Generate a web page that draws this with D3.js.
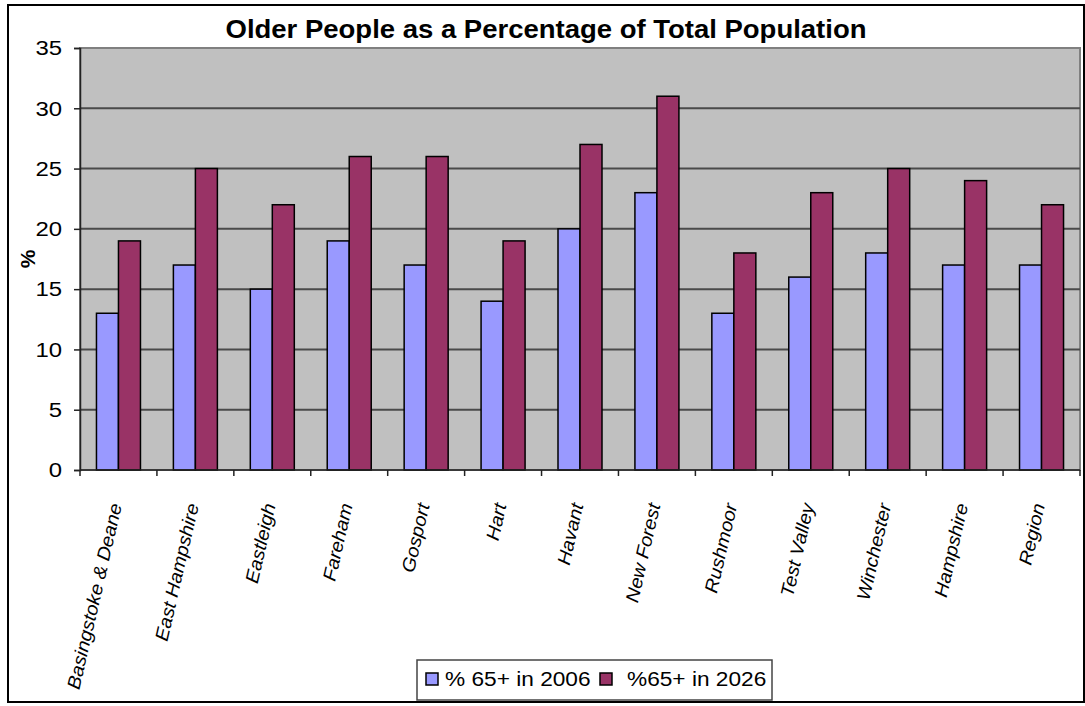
<!DOCTYPE html>
<html>
<head>
<meta charset="utf-8">
<script src="https://cdn.jsdelivr.net/npm/d3@7"></script>
<style>
  body { margin: 0; background: #fff; }
  text { font-family: "Liberation Sans", Arial, sans-serif; }
</style>
</head>
<body>
<div id="chart"></div>
<script>
// data
const districts = ["Basingstoke & Deane", "East Hampshire", "Eastleigh", "Fareham", "Gosport", "Hart",
    "Havant", "New Forest", "Rushmoor", "Test Valley", "Winchester", "Hampshire", "Region"];
const pct2006 = [13, 17, 15, 19, 17, 14, 20, 23, 13, 16, 18, 17, 17];
const pct2026 = [19, 25, 22, 26, 26, 19, 27, 31, 18, 23, 25, 24, 22];
const seriesNames = ["% 65+ in 2006", "%65+ in 2026"];
const yTicks = [0, 5, 10, 15, 20, 25, 30, 35];

const WIDTH = 1085, HEIGHT = 706;
const COLORS = ["#9999FF", "#993366"];
// the original text is drawn a little wider than Arial
const STRETCH = 1.1;

const svg = d3.select("#chart").append("svg")
    .attr("width", WIDTH)
    .attr("height", HEIGHT);

// outer chart border
svg.append("rect")
    .attr("x", 8).attr("y", 5)
    .attr("width", 1076).attr("height", 697)
    .attr("fill", "white")
    .attr("stroke", "black")
    .attr("stroke-width", 2);

const plot = { left: 80, top: 48, right: 1080, bottom: 470 };

const x = d3.scaleBand()
    .domain(districts)
    .range([plot.left, plot.right]);

const xInner = d3.scaleBand()
    .domain([0, 1])
    .range([0, 44]);

const y = d3.scaleLinear()
    .domain([0, 35])
    .range([plot.bottom, plot.top]);

// plot area
svg.append("rect")
    .attr("x", plot.left).attr("y", plot.top)
    .attr("width", plot.right - plot.left)
    .attr("height", plot.bottom - plot.top)
    .attr("fill", "#C0C0C0")
    .attr("stroke", "#808080")
    .attr("stroke-width", 2);

// gridlines
svg.append("g")
    .selectAll("line")
    .data(yTicks.filter(t => t > 0 && t < 35))
    .enter().append("line")
    .attr("x1", plot.left).attr("x2", plot.right)
    .attr("y1", d => y(d)).attr("y2", d => y(d))
    .attr("stroke", "#4a4a4a")
    .attr("stroke-width", 2);

// bars
const groups = svg.append("g")
    .selectAll("g")
    .data(districts)
    .enter().append("g")
    .attr("transform", d => `translate(${x(d) + (x.bandwidth() - 44) / 2},0)`);

groups.selectAll("rect")
    .data((d, i) => [pct2006[i], pct2026[i]])
    .enter().append("rect")
    .attr("x", (d, j) => xInner(j))
    .attr("y", d => y(d))
    .attr("width", xInner.bandwidth())
    .attr("height", d => y(0) - y(d))
    .attr("fill", (d, j) => COLORS[j])
    .attr("stroke", "black")
    .attr("stroke-width", 1.5);

// y axis
const yAxis = svg.append("g")
    .attr("transform", `translate(${plot.left},0)`)
    .call(d3.axisLeft(y).tickValues(yTicks).tickSize(6).tickPadding(0));
yAxis.select(".domain").attr("stroke", "#222").attr("stroke-width", 1.5);
yAxis.selectAll(".tick line").attr("stroke", "#222").attr("stroke-width", 1.5);
yAxis.selectAll("text")
    .attr("x", null)
    .attr("transform", `translate(-18,0) scale(${STRETCH + 0.04},1)`)
    .style("font-size", "21px")
    .style("font-family", "Liberation Sans, Arial, sans-serif")
    .attr("fill", "black");

// x axis
const xAxis = svg.append("g")
    .attr("transform", `translate(0,${plot.bottom})`);
xAxis.append("line")
    .attr("x1", plot.left).attr("x2", plot.right)
    .attr("stroke", "#222").attr("stroke-width", 1.5);
xAxis.selectAll("line.tk")
    .data(districts.concat(["end"]))
    .enter().append("line")
    .attr("class", "tk")
    .attr("x1", (d, i) => i < districts.length ? x(d) : plot.right)
    .attr("x2", (d, i) => i < districts.length ? x(d) : plot.right)
    .attr("y1", 0).attr("y2", 6)
    .attr("stroke", "#222").attr("stroke-width", 1.5);

xAxis.selectAll("text")
    .data(districts)
    .enter().append("text")
    .attr("transform", d => `translate(${x(d) + x.bandwidth() / 2 + 3.5},${35}) rotate(-77) scale(1.07,1)`)
    .attr("text-anchor", "end")
    .style("font-size", "18.5px")
    .style("font-style", "italic")
    .text(d => d);

// y axis title
svg.append("text")
    .attr("transform", `translate(35,${(plot.top + plot.bottom) / 2}) rotate(-90)`)
    .attr("text-anchor", "middle")
    .style("font-size", "21px")
    .style("font-weight", "bold")
    .text("%");

// title
svg.append("text")
    .attr("transform", `translate(546,38) scale(${STRETCH},1)`)
    .attr("text-anchor", "middle")
    .style("font-size", "25px")
    .style("font-weight", "bold")
    .text("Older People as a Percentage of Total Population");

// legend
const legend = svg.append("g")
    .attr("transform", "translate(417,660)");
legend.append("rect")
    .attr("width", 355).attr("height", 40)
    .attr("fill", "white")
    .attr("stroke", "#444")
    .attr("stroke-width", 1.5);
const legendX = [9, 183];
const items = legend.selectAll("g")
    .data(seriesNames)
    .enter().append("g")
    .attr("transform", (d, i) => `translate(${legendX[i]},13)`);
items.append("rect")
    .attr("width", 12).attr("height", 12)
    .attr("fill", (d, i) => COLORS[i])
    .attr("stroke", "black")
    .attr("stroke-width", 1.5);
items.append("text")
    .attr("transform", (d, i) => `translate(${i === 0 ? 19 : 27},13) scale(1.08,1)`)
    .style("font-size", "21px")
    .text(d => d);
</script>
</body>
</html>
